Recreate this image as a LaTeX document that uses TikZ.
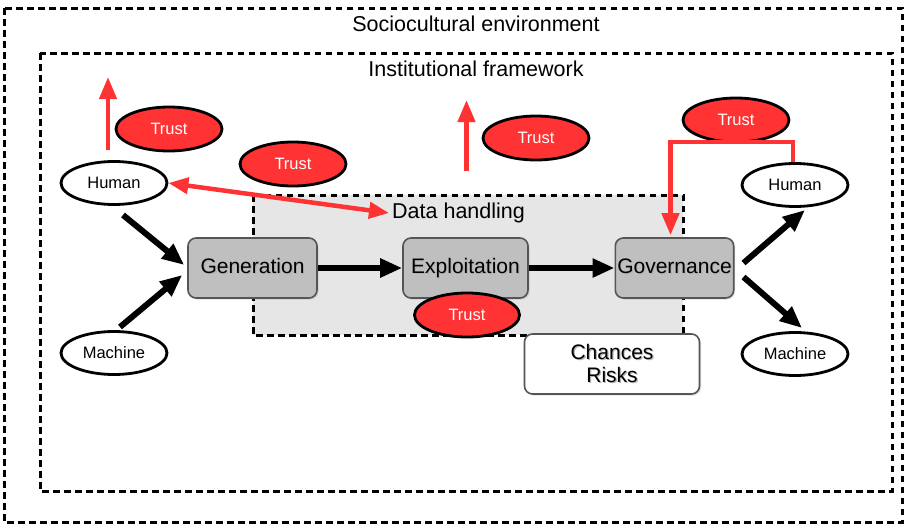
\documentclass[tikz,border=0pt]{standalone}
\usepackage{fontspec}
\setmainfont{Liberation Sans}
\usetikzlibrary{arrows.meta,shapes.geometric,shadows}
\definecolor{trustred}{HTML}{FF3333}
\definecolor{stagegray}{HTML}{BFBFBF}
\definecolor{zonegray}{HTML}{E6E6E6}
\definecolor{edgegray}{HTML}{555555}
% label with a soft offset shadow, as on the stage boxes
\newcommand\shadowlabel[1]{\makebox[0pt][l]{\hspace{1.2pt}\raisebox{-1.2pt}{\textcolor{black!30}{#1}}}#1}
\begin{document}
\begin{tikzpicture}[x=1pt,y=-1pt,
  frame/.style={draw, line width=3pt, dash pattern=on 6.5pt off 4.5pt},
  bigtext/.style={font=\fontsize{21.5}{25}\selectfont, inner sep=0pt},
  stagebox/.style={draw=edgegray, line width=1.6pt, fill=stagegray, rounded corners=8pt,
    minimum height=60pt, inner sep=2pt, text height=15pt, text depth=4pt,
    font=\fontsize{21}{24}\selectfont,
    drop shadow={shadow xshift=1.5pt, shadow yshift=-1.5pt, opacity=0.25}},
  actor/.style={ellipse, draw, line width=2.8pt, fill=white, minimum width=106pt,
    minimum height=43pt, inner sep=0pt, font=\fontsize{16.5}{19}\selectfont},
  trust/.style={ellipse, draw, line width=2.8pt, fill=trustred, text=white,
    minimum width=106pt, minimum height=44pt, inner sep=0pt, font=\fontsize{16.5}{19}\selectfont},
  flow/.style={line width=6pt, -{Triangle[length=22pt,width=18pt]}},
  redflow/.style={draw=trustred, line width=4.5pt, -{Triangle[length=22pt,width=17pt]}},
  redboth/.style={draw=trustred, line width=4.5pt, {Triangle[length=20pt,width=16pt]}-{Triangle[length=20pt,width=16pt]}},
]
\path[use as bounding box] (0,0) rectangle (906,525);

% nested environments
\draw[frame] (4,8) rectangle (902,522);
\node[bigtext] (socio) at (476,24) {Sociocultural environment};
\draw[frame] (40,53) rectangle (892,491);
\node[bigtext] (inst) at (476,69) {Institutional framework};

% data handling zone
\draw[frame, fill=zonegray] (253,195) rectangle (683,335);
\node[bigtext, anchor=west] (dh) at (392,213) {Data handling};

% stages
\node[stagebox, minimum width=129pt] (gen) at (252.5,268) {\shadowlabel{Generation}};
\node[stagebox, minimum width=125pt] (exp) at (465.5,268) {\shadowlabel{Exploitation}};
\node[stagebox, minimum width=117pt] (gov) at (674.5,268) {\shadowlabel{Governance}};

% chances and risks
\node[draw=edgegray, line width=1.6pt, fill=white, rounded corners=8pt,
  minimum width=175pt, minimum height=60pt, align=center,
  font=\fontsize{21}{22.5}\selectfont,
  drop shadow={shadow xshift=1.5pt, shadow yshift=-1.5pt, opacity=0.25}]
  (cr) at (612,364) {\shadowlabel{Chances}\\\shadowlabel{Risks}};

% actors
\node[actor] (hl) at (114,183) {Human};
\node[actor] (ml) at (114,353) {Machine};
\node[actor] (hr) at (795,185) {Human};
\node[actor] (mr) at (795,354) {Machine};

% trust
\node[trust] (t1) at (169,129) {Trust};
\node[trust] (t2) at (293,164) {Trust};
\node[trust] (t3) at (536,138) {Trust};
\node[trust] (t4) at (736,120) {Trust};
\node[trust, minimum width=105pt] (t5) at (467,315) {Trust};

% main flow
\draw[flow] ([shift={(9,32)}]hl.center) -- ([shift={(-3,-3)}]gen.west);
\draw[flow] ([shift={(6,-26)}]ml.center) -- ([shift={(-5,7)}]gen.west);
\draw[flow] (gen.east) -- (exp.west);
\draw[flow] (exp.east) -- (gov.west);
\draw[flow] ([shift={(9,-5)}]gov.east) -- ([shift={(10,25)}]hr.center);
\draw[flow] ([shift={(9,9)}]gov.east) -- ([shift={(7,-26)}]mr.center);

% trust links
\draw[redflow] ([shift={(-6,-33)}]hl.center) -- ([shift={(-6,-106)}]hl.center);
\draw[redflow] ([shift={(1,-97)}]exp.center) -- ([shift={(1,-168)}]exp.center);
\draw[redboth] (hl.east) -- ([xshift=-3pt]dh.west);
\draw[redflow, line join=miter, shorten >=2pt] ([xshift=-2pt]hr.north) -- ++(0,-20) -| ([xshift=-4pt]gov.north);
\end{tikzpicture}
\end{document}
